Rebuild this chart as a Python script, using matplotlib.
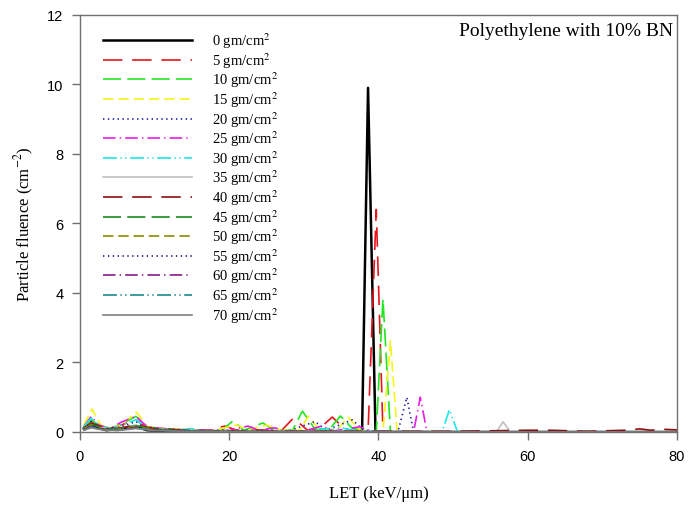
import matplotlib
matplotlib.use("Agg")
import matplotlib.pyplot as plt

plt.rcParams['lines.scale_dashes'] = False
plt.rcParams['mathtext.fontset'] = 'stix'

# LET (keV/um) and fluence (cm^-2) for each shield depth
let_0 = [0.5, 1.5, 2.5, 3.5, 5, 7.5, 9, 12, 20, 30, 37.8, 38.6, 39.6, 45, 60, 80]
flu_0 = [0.1, 0.2, 0.12, 0.05, 0.08, 0.15, 0.05, 0.02, 0.01, 0.01, 0.0, 9.9, 0.0, 0.0, 0.0, 0.0]

let_5 = [0.5, 1.5, 2.5, 4, 5.5, 7.5, 9, 11, 14, 17, 19.4, 21, 24, 27, 28.6, 30.5, 32, 33.8,
         35.5, 37.5, 38.6, 39.7, 40.6, 43, 50, 60, 80]
flu_5 = [0.12, 0.3, 0.15, 0.08, 0.2, 0.35, 0.12, 0.1, 0.05, 0.04, 0.17, 0.05, 0.06, 0.04, 0.4,
         0.05, 0.08, 0.43, 0.08, 0.02, 0.0, 6.4, 0.0, 0.0, 0.0, 0.0, 0.0]

let_10 = [0.5, 1.5, 2.5, 4, 5.5, 7.5, 9, 11, 14, 17, 19, 20.5, 22, 24.5, 26, 28.5, 29.8, 31.5,
          33.5, 34.9, 36.5, 38.5, 39.7, 40.6, 41.6, 45, 60, 80]
flu_10 = [0.15, 0.35, 0.2, 0.1, 0.22, 0.45, 0.15, 0.1, 0.06, 0.05, 0.05, 0.32, 0.05, 0.26, 0.05,
          0.05, 0.6, 0.08, 0.1, 0.46, 0.1, 0.05, 0.0, 3.83, 0.0, 0.0, 0.0, 0.0]

let_15 = [0.5, 1.6, 2.8, 4, 5.5, 7.6, 9, 11, 14, 18, 21, 22.5, 25, 27, 29.5, 30.6, 32, 34.5,
          35.9, 37.5, 40.6, 41.6, 42.5, 50, 80]
flu_15 = [0.2, 0.66, 0.2, 0.1, 0.2, 0.57, 0.15, 0.1, 0.06, 0.05, 0.2, 0.05, 0.2, 0.05, 0.05,
          0.46, 0.08, 0.06, 0.43, 0.05, 0.0, 2.62, 0.0, 0.0, 0.0]

let_20 = [0.5, 1.5, 2.5, 4, 5.5, 7.5, 9, 12, 16, 20, 25, 28, 31.5, 33, 36.5, 38, 40, 42.6,
          43.8, 44.7, 50, 80]
flu_20 = [0.1, 0.3, 0.15, 0.08, 0.15, 0.3, 0.1, 0.08, 0.05, 0.05, 0.05, 0.03, 0.3, 0.05, 0.35,
          0.05, 0.02, 0.0, 1.0, 0.0, 0.0, 0.0]

let_25 = [0.5, 1.5, 2.5, 4, 5.5, 7.5, 9, 11, 14, 18, 20, 22.5, 24, 26, 28, 30, 32.4, 34, 37.5,
          39, 42, 44.7, 45.6, 46.5, 55, 80]
flu_25 = [0.15, 0.45, 0.2, 0.1, 0.28, 0.45, 0.15, 0.1, 0.06, 0.05, 0.04, 0.17, 0.05, 0.12, 0.03,
          0.03, 0.17, 0.03, 0.15, 0.03, 0.02, 0.0, 1.0, 0.0, 0.0, 0.0]

let_30 = [0.5, 1.5, 2.5, 4, 5.5, 7.5, 9, 11, 13, 14.8, 16.5, 20, 25, 30, 33.5, 35, 37, 40, 45,
          48.5, 49.5, 50.6, 55, 80]
flu_30 = [0.15, 0.4, 0.2, 0.1, 0.2, 0.35, 0.12, 0.08, 0.05, 0.1, 0.03, 0.03, 0.02, 0.02, 0.1,
          0.12, 0.03, 0.02, 0.01, 0.0, 0.64, 0.0, 0.0, 0.0]

let_35 = [0.5, 1.5, 3, 5, 7.5, 10, 15, 20, 30, 40, 50, 55.8, 56.7, 57.7, 65, 80]
flu_35 = [0.1, 0.25, 0.12, 0.1, 0.2, 0.08, 0.04, 0.03, 0.02, 0.01, 0.01, 0.0, 0.29, 0.0, 0.0, 0.0]

let_40 = [0.5, 1.5, 3, 5, 7.5, 10, 14, 20, 30, 40, 50, 57, 60, 63, 68, 73, 75, 76.5, 78, 80]
flu_40 = [0.12, 0.25, 0.15, 0.1, 0.2, 0.1, 0.05, 0.03, 0.02, 0.02, 0.02, 0.04, 0.05, 0.05, 0.02,
          0.05, 0.09, 0.05, 0.08, 0.06]

let_45 = [0.5, 1.5, 3, 5, 7.5, 10, 14, 20, 30, 80]
flu_45 = [0.1, 0.22, 0.12, 0.08, 0.18, 0.08, 0.04, 0.02, 0.01, 0.0]

let_50 = [0.5, 1.5, 3, 5, 7.5, 10, 14, 20, 30, 80]
flu_50 = [0.08, 0.2, 0.1, 0.07, 0.16, 0.07, 0.03, 0.02, 0.01, 0.0]

let_55 = [0.5, 1.5, 3, 5, 7.5, 10, 14, 20, 30, 80]
flu_55 = [0.07, 0.18, 0.09, 0.06, 0.14, 0.06, 0.03, 0.02, 0.01, 0.0]

let_60 = [0.5, 1.5, 3, 5, 7.5, 10, 14, 20, 30, 80]
flu_60 = [0.06, 0.16, 0.08, 0.05, 0.12, 0.05, 0.03, 0.01, 0.01, 0.0]

let_65 = [0.5, 1.5, 3, 5, 7.5, 10, 14, 20, 30, 80]
flu_65 = [0.05, 0.14, 0.07, 0.05, 0.11, 0.05, 0.02, 0.01, 0.0, 0.0]

let_70 = [0.5, 1.5, 3, 5, 7.5, 10, 14, 20, 30, 80]
flu_70 = [0.05, 0.12, 0.06, 0.04, 0.1, 0.04, 0.02, 0.01, 0.0, 0.0]

depths = [0, 5, 10, 15, 20, 25, 30, 35, 40, 45, 50, 55, 60, 65, 70]
lets = [let_0, let_5, let_10, let_15, let_20, let_25, let_30, let_35,
        let_40, let_45, let_50, let_55, let_60, let_65, let_70]
flus = [flu_0, flu_5, flu_10, flu_15, flu_20, flu_25, flu_30, flu_35,
        flu_40, flu_45, flu_50, flu_55, flu_60, flu_65, flu_70]

colors = ['#000000', '#e8141c', '#22e622', '#f5f51a', '#1c1ca0', '#e61ee6', '#1ee6e6', '#c0c0c0',
          '#8b0f0f', '#1a8a1a', '#8a8a00', '#1c1c80', '#8a1a8a', '#1a8a8a', '#808080']
styles = ['-', (0, (14, 7)), (0, (13, 4.5)), (0, (7.5, 3.5)), (0, (1, 2.5)),
          (0, (9, 3, 1, 3)), (0, (10, 2.5, 1, 2.5, 1, 2.5)), '-',
          (0, (14, 7)), (0, (13, 4.5)), (0, (7.5, 3.5)), (0, (1, 2.5)),
          (0, (9, 3, 1, 3)), (0, (10, 2.5, 1, 2.5, 1, 2.5)), '-']

serif = 'Liberation Serif'
sans = 'Liberation Sans'

fig = plt.figure(figsize=(6.92, 5.10), dpi=100)
ax = fig.add_axes([0.1156, 0.151, 0.8627, 0.818])

for d, x, y, c, ls in zip(depths, lets, flus, colors, styles):
    lw = 1.8 if d == 0 else 1.2
    ax.plot(x, y, color=c, linestyle=ls, linewidth=lw, label=r'%d gm/cm$^2$' % d)

ax.set_xlim(0, 80)
ax.set_ylim(0, 12)
ax.set_xticks([0, 20, 40, 60, 80])
ax.set_yticks([0, 2, 4, 6, 8, 10, 12])
for s in ax.spines.values():
    s.set_color('#707070')
    s.set_linewidth(1.0)
ax.tick_params(direction='out', length=6, width=1, color='#707070', labelsize=10.5, pad=6)
for lab in ax.get_xticklabels() + ax.get_yticklabels():
    lab.set_fontfamily(sans)

ax.set_xlabel('LET (keV/μm)', fontfamily=serif, fontsize=12, labelpad=16)
ax.set_ylabel('Particle fluence (cm$^{-2}$)', fontfamily=serif, fontsize=12, labelpad=8)

ax.text(0.993, 0.962, 'Polyethylene with 10% BN', transform=ax.transAxes, ha='right', va='center',
        fontfamily=serif, fontsize=14)

ax.legend(loc='upper left', bbox_to_anchor=(0.0385, 0.962), frameon=False, borderpad=0,
          borderaxespad=0, handlelength=6.1, handletextpad=1.35, labelspacing=0.0,
          prop={'family': serif, 'size': 10.5})

fig.savefig('out.png', dpi=100)
